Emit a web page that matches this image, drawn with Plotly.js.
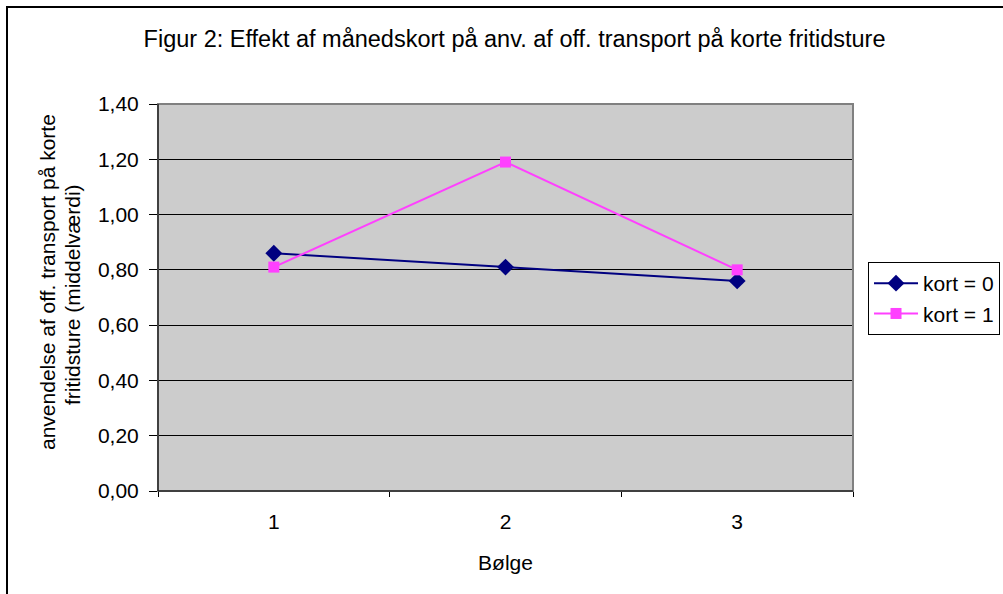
<!DOCTYPE html>
<html>
<head>
<meta charset="utf-8">
<script src="https://cdn.plot.ly/plotly-3.0.1.min.js"></script>
<style>
html,body{margin:0;padding:0;background:#fff;}
#chart{width:1003px;height:594px;}
</style>
</head>
<body>
<div id="chart"></div>
<script>
var waves = ["1", "2", "3"];
var kort0 = [0.86, 0.81, 0.76];
var kort1 = [0.81, 1.19, 0.80];
var seriesNames = ["kort = 0", "kort = 1"];
var yTicks = [0, 0.2, 0.4, 0.6, 0.8, 1.0, 1.2, 1.4];
var yTitleLines = ["anvendelse af off. transport på korte", "fritidsture (middelværdi)"];

var F = "Liberation Sans, Arial, sans-serif";

var traces = [
  {
    x: waves, y: kort0, name: seriesNames[0], type: "scatter", mode: "lines+markers",
    line: {color: "#000080", width: 2},
    marker: {symbol: "diamond", size: 13, color: "#000080"}
  },
  {
    x: waves, y: kort1, name: seriesNames[1], type: "scatter", mode: "lines+markers",
    line: {color: "#FF40FF", width: 2},
    marker: {symbol: "square", size: 11, color: "#FF40FF"}
  }
];

var layout = {
  width: 1003, height: 594,
  margin: {l: 158, r: 150, t: 104, b: 103, autoexpand: false},
  paper_bgcolor: "#ffffff",
  plot_bgcolor: "#CCCCCC",
  separators: ", ",
  font: {family: F, size: 21, color: "#000"},
  title: {text: "Figur 2: Effekt af månedskort på anv. af off. transport på korte fritidsture",
          font: {family: F, size: 23.5, color: "#000"},
          x: 0.513, xref: "paper", xanchor: "center", y: 1 - 39 / 594, yref: "container", yanchor: "middle"},
  showlegend: true,
  legend: {x: 1.0216, y: 0.5917, xanchor: "left", yanchor: "top",
           bgcolor: "#ffffff", bordercolor: "#000", borderwidth: 1,
           font: {family: F, size: 21, color: "#000"}, tracegroupgap: 0, itemwidth: 44},
  xaxis: {
    type: "category", range: [-0.5, 2.5],
    showgrid: false, zeroline: false,
    showline: true, linecolor: "#000", linewidth: 1,
    ticks: "outside", tickson: "boundaries", ticklen: 5, tickcolor: "#000",
    ticklabelstandoff: 12,
    tickfont: {family: F, size: 21, color: "#000"},
    title: {text: "Bølge", font: {family: F, size: 21, color: "#000"}, standoff: 23}
  },
  yaxis: {
    range: [0, 1.4], tickvals: yTicks, tickformat: ".2f",
    showgrid: true, gridcolor: "#000", gridwidth: 1,
    zeroline: false,
    showline: true, linecolor: "#000", linewidth: 1,
    ticks: "outside", ticklen: 8, tickcolor: "#000",
    ticklabelstandoff: 6,
    tickfont: {family: F, size: 21, color: "#000"}
  },
  annotations: [
    {text: yTitleLines[0], xref: "paper", yref: "paper", x: (47 - 158) / 695, y: (491 - 282) / 387,
     xanchor: "center", yanchor: "middle", textangle: -90, showarrow: false,
     font: {family: F, size: 21, color: "#000"}},
    {text: yTitleLines[1], xref: "paper", yref: "paper", x: (72 - 158) / 695, y: (491 - 295) / 387,
     xanchor: "center", yanchor: "middle", textangle: -90, showarrow: false,
     font: {family: F, size: 21, color: "#000"}}
  ],
  shapes: [
    {type: "rect", xref: "paper", yref: "paper", x0: 0, x1: 1, y0: 0, y1: 1,
     line: {color: "#808080", width: 2}, layer: "above"},
    {type: "line", xref: "paper", yref: "paper", x0: 0, x1: 0, y0: 0, y1: 1,
     line: {color: "#000", width: 1}, layer: "above"},
    {type: "line", xref: "paper", yref: "paper", x0: 0, x1: 1, y0: 0, y1: 0,
     line: {color: "#000", width: 1}, layer: "above"},
    {type: "rect", xref: "paper", yref: "paper", x0: (7 - 158) / 695, x1: 1.3, y0: -0.3, y1: (491 - 7) / 387,
     line: {color: "#000", width: 2}, fillcolor: "rgba(0,0,0,0)", layer: "below"}
  ]
};

Plotly.newPlot("chart", traces, layout, {displayModeBar: false, staticPlot: true});
</script>
</body>
</html>
